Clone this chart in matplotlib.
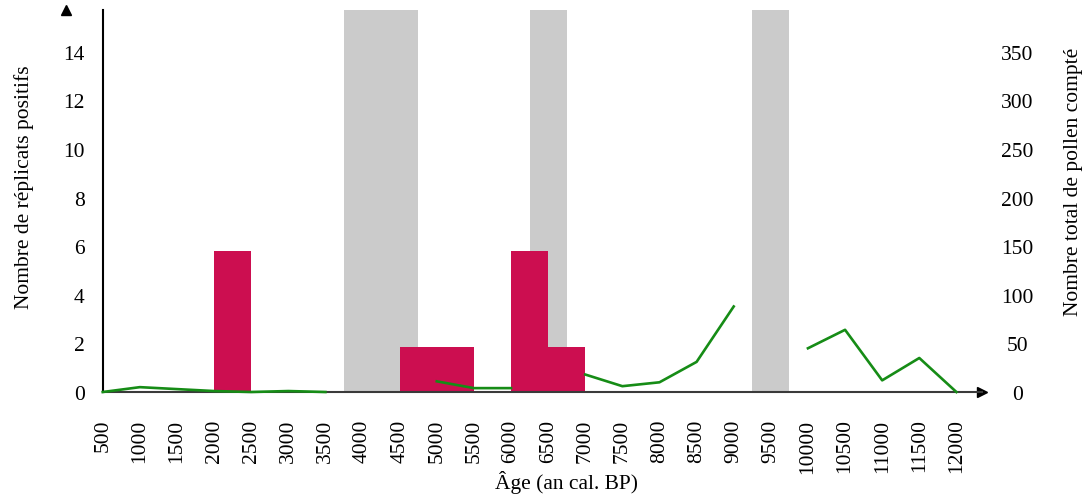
import numpy as np
import matplotlib
matplotlib.use("Agg")
import matplotlib.pyplot as plt

plt.rcParams['font.family'] = ['Liberation Serif', 'DejaVu Serif']

# x axis: age (cal. BP)
ages = list(range(500, 12001, 500))

# positive replicates (left axis), bars start at the age
bar_start = [2000, 4500, 6000, 6500]
bar_width = [500, 1000, 500, 500]
bar_height = [5.8, 1.85, 5.8, 1.85]

# grey periods (start, end)
grey_periods = [(3750, 4750), (6250, 6750), (9250, 9750)]

# total pollen counted (right axis), NaN = no sample
pollen = [0, 5, 3, 1, 0, 1, 0, np.nan, np.nan, 11, 4, 4, np.nan, 18,
          6, 10, 31, 88, np.nan, 45, 64, 12, 35, 0]

left_ticks = [0, 2, 4, 6, 8, 10, 12, 14]
right_ticks = [0, 50, 100, 150, 200, 250, 300, 350]

red = '#cc0e50'
grey = '#cbcbcb'
green = '#168c16'
fs = 15.5

fig = plt.figure(figsize=(10.86, 5.02), dpi=100)
ax = fig.add_axes([0.0946, 0.2171, 0.81, 0.761])
ax2 = ax.twinx()

for start, end in grey_periods:
    ax.axvspan(start, end, color=grey, lw=0, zorder=1)
ax.bar(bar_start, bar_height, width=bar_width, align='edge', color=red, zorder=2)

ymax = 15.72
ax.set_xlim(500, 12350)
ax.set_ylim(0, ymax)
ax2.set_ylim(0, ymax * 25)

ax2.plot(ages, pollen, color=green, lw=1.9, zorder=5, clip_on=False)

# line drawn above the bars
ax.set_zorder(1)
ax2.set_zorder(2)
ax.patch.set_visible(False)

for s in ['top', 'right']:
    ax.spines[s].set_visible(False)
for s in ['top', 'right', 'left', 'bottom']:
    ax2.spines[s].set_visible(False)
ax.spines['left'].set_linewidth(1.5)
ax.spines['left'].set_color('black')
ax.spines['bottom'].set_linewidth(1.5)
ax.spines['bottom'].set_color('#3a3a3a')

ax.plot(1, 0, '>', color='black', ms=7, transform=ax.get_yaxis_transform(), clip_on=False)
ax.plot(0, 1, '^', color='black', ms=7, transform=ax.get_xaxis_transform(), clip_on=False)

ax.set_xticks(ages)
ax.set_xticklabels([str(a) for a in ages], rotation=90, fontsize=fs)
ax.tick_params(axis='x', length=0, pad=19)
ax.set_yticks(left_ticks)
ax.set_yticklabels([str(t) for t in left_ticks], fontsize=fs)
ax.tick_params(axis='y', length=0, pad=13)

ax2.set_yticks(right_ticks)
ax2.set_yticklabels([str(t) for t in right_ticks], fontsize=fs, ha='center')
ax2.tick_params(axis='y', length=0, pad=25)

ax.set_xlabel('Âge (an cal. BP)', fontsize=fs, va='center')
ax.xaxis.set_label_coords(0.527, -0.235)
ax.set_ylabel('Nombre de réplicats positifs', fontsize=fs, va='center')
ax.yaxis.set_label_coords(-0.09, 0.54)
ax2.set_ylabel('Nombre total de pollen compté', fontsize=fs, va='center')
ax2.yaxis.set_label_coords(1.104, 0.553)

fig.savefig('out.png', dpi=100)
